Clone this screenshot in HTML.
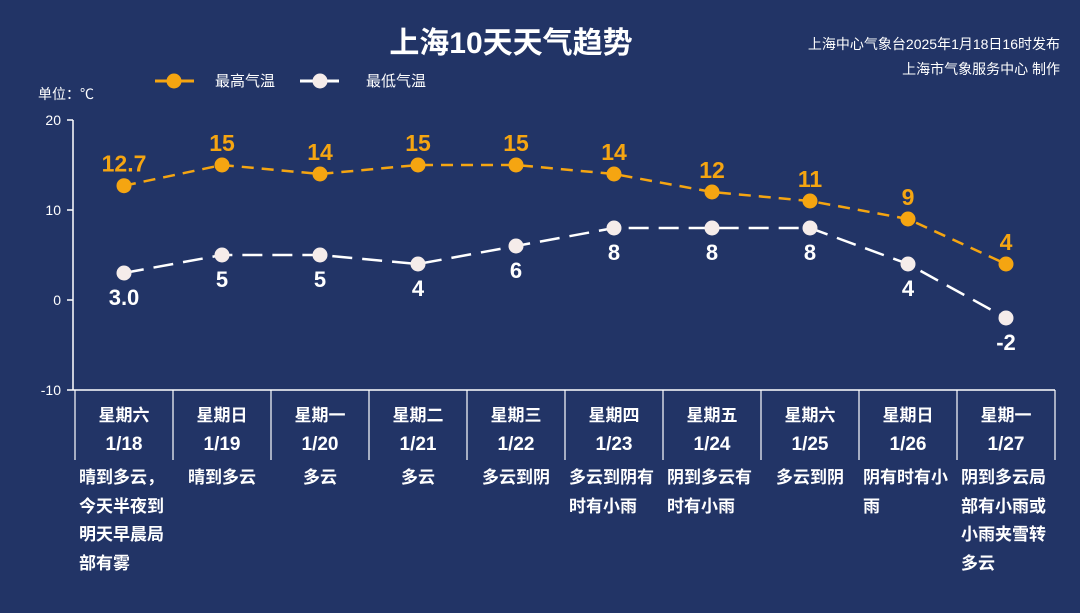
<!DOCTYPE html>
<html><head><meta charset="utf-8"><style>
body{margin:0;width:1080px;height:613px;overflow:hidden;background:#223466;font-family:"Liberation Sans","Noto Sans CJK SC",sans-serif;}
svg{display:block}
.desc{position:absolute;top:464px;width:98px;text-align:center;color:#fff;font-weight:bold;font-size:17px;line-height:28.5px}
.desc span{display:inline-block;max-width:90px;text-align:left}
</style></head><body>
<div style="position:relative;width:1080px;height:613px">
<svg id="chart" width="1080" height="613">
<text x="511" y="53" text-anchor="middle" fill="#fff" font-size="30" font-weight="bold">上海10天天气趋势</text>
<text x="1060" y="49" text-anchor="end" fill="#fff" font-size="14">上海中心气象台2025年1月18日16时发布</text>
<text x="1060" y="74" text-anchor="end" fill="#fff" font-size="14">上海市气象服务中心 制作</text>
<g><line x1="155" y1="81" x2="194" y2="81" stroke="#f5a511" stroke-width="3"/><circle cx="174" cy="81" r="7.5" fill="#f5a511"/><text x="215" y="86" fill="#fff" font-size="15">最高气温</text></g>
<g><line x1="300" y1="81" x2="339" y2="81" stroke="#fff" stroke-width="3"/><circle cx="320" cy="81" r="7.5" fill="#f5ecea"/><text x="366" y="86" fill="#fff" font-size="15">最低气温</text></g>
<text x="38" y="99" fill="#fff" font-size="14">单位：℃</text>
</svg>
</div>
<script>
const days=["星期六","星期日","星期一","星期二","星期三","星期四","星期五","星期六","星期日","星期一"];
const dates=["1/18","1/19","1/20","1/21","1/22","1/23","1/24","1/25","1/26","1/27"];
const maxTemps=[12.7,15,14,15,15,14,12,11,9,4];
const minTemps=[3,5,5,4,6,8,8,8,4,-2];
const maxLabels=["12.7","15","14","15","15","14","12","11","9","4"];
const minLabels=["3.0","5","5","4","6","8","8","8","4","-2"];
const descs=["晴到多云，今天半夜到明天早晨局部有雾","晴到多云","多云","多云","多云到阴","多云到阴有时有小雨","阴到多云有时有小雨","多云到阴","阴有时有小雨","阴到多云局部有小雨或小雨夹雪转多云"];
const yTicks=[20,10,0,-10];
const NS="http://www.w3.org/2000/svg";
const svg=document.getElementById('chart');
const root=svg.parentNode;
const x0=75,colW=98,yMin=-10,yMax=20,yTop=120,yBot=390;
const xs=i=>x0+colW*(i+0.5);
const ys=v=>yBot-(v-yMin)/(yMax-yMin)*(yBot-yTop);
function mk(t,a){const e=document.createElementNS(NS,t);for(const k in a)e.setAttribute(k,a[k]);svg.appendChild(e);return e;}
let e=mk('line',{x1:73,y1:yTop,x2:73,y2:yBot,stroke:'#fff','stroke-width':1.5});


yTicks.forEach(v=>{
 const l=mk('line',{x1:67,y1:ys(v),x2:73,y2:ys(v),stroke:'#fff','stroke-width':1.5});
 
 
 const t=mk('text',{x:61,y:ys(v)+5,'text-anchor':'end',fill:'#fff','font-size':14});
 t.textContent=v;
 
 
});
e=mk('line',{x1:73,y1:yBot,x2:x0+colW*days.length,y2:yBot,stroke:'#fff','stroke-width':1.5});


for(let i=0;i<=days.length;i++){
 const l=mk('line',{x1:x0+colW*i,y1:yBot,x2:x0+colW*i,y2:460,stroke:'#fff','stroke-width':1.2});
 
 
}
days.forEach((d,i)=>{
 let t=mk('text',{x:xs(i),y:421,'text-anchor':'middle',fill:'#fff','font-size':17,'font-weight':'bold'});
 t.textContent=d;
 
 
 t=mk('text',{x:xs(i),y:450,'text-anchor':'middle',fill:'#fff','font-size':19,'font-weight':'bold'});
 t.textContent=dates[i];
 
 
 const dv=document.createElement('div');
 dv.className='desc';dv.style.left=(x0+colW*i)+'px';
 dv.innerHTML='<span>'+descs[i]+'</span>';
 
 
 root.appendChild(dv);
});
function series(vals,labels,color,fill,dash,name,labelDy,fs){
 const p=mk('polyline',{points:vals.map((v,i)=>xs(i)+','+ys(v)).join(' '),fill:'none',stroke:color,'stroke-width':2.5,'stroke-dasharray':dash});
 
 
 vals.forEach((v,i)=>{
  const c=mk('circle',{cx:xs(i),cy:ys(v),r:7.5,fill:fill});
  
  
  const t=mk('text',{x:xs(i),y:ys(v)+labelDy,'text-anchor':'middle',fill:color,'font-size':fs,'font-weight':'bold'});
  t.textContent=labels[i];
  
  
 });
}
series(maxTemps,maxLabels,'#f5a511','#f5a511','12 8','max-temp',-14,23);
series(minTemps,minLabels,'#ffffff','#f5ecea','20 10','min-temp',32,22);
</script>
</body></html>
